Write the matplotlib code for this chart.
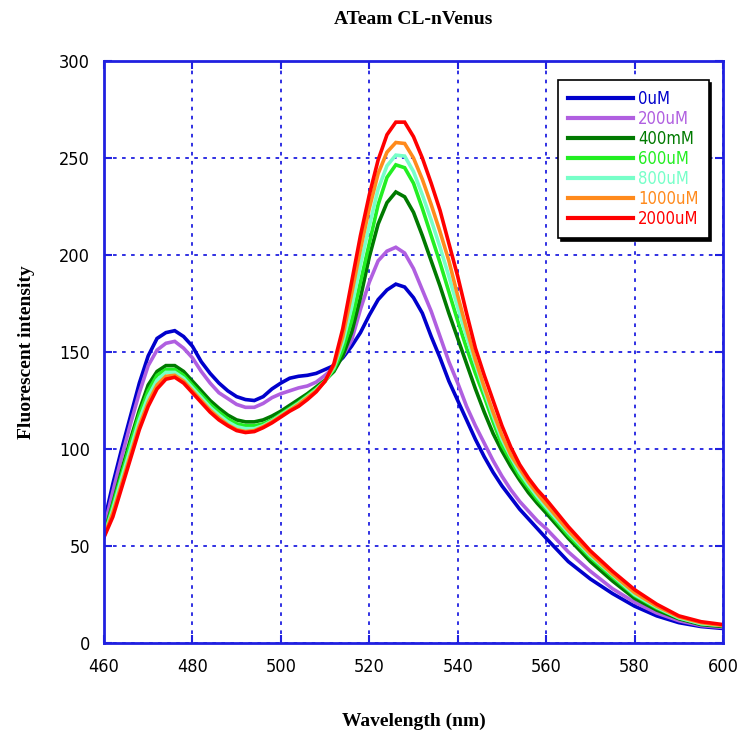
import matplotlib.pyplot as plt
import numpy as np

# wavelength grid (nm)
wl = [460, 462, 464, 466, 468, 470, 472, 474, 476, 478,
      480, 482, 484, 486, 488, 490, 492, 494, 496, 498,
      500, 502, 504, 506, 508, 510, 512, 514, 516, 518,
      520, 522, 524, 526, 528, 530, 532, 534, 536, 538,
      540, 542, 544, 546, 548, 550, 552, 554, 556, 558,
      560, 565, 570, 575, 580, 585, 590, 595, 600]

atp_0 = [62, 82, 100, 117, 134, 148, 157, 160, 161, 158,
         153, 145, 139, 134, 130, 127, 125.5, 125, 127, 131,
         134, 136.5, 137.5, 138, 139, 141, 143, 147, 153, 160,
         169, 177, 182, 185, 183.5, 178, 170, 158, 147, 135,
         125, 115, 105, 96, 88, 81, 75, 69, 64, 59,
         54, 42, 33, 25.5, 19, 14, 10.5, 8.5, 7.5]

atp_200 = [59, 78, 96, 113, 129, 143, 151, 154.5, 155.5, 152,
           147, 140, 134, 129, 126, 123, 121.5, 121.5, 123.5, 126.5,
           128.5, 130, 131.5, 132.5, 134.5, 138, 142, 148, 156, 172,
           186, 197, 202, 204, 201, 193, 182, 171, 158, 145,
           134, 122, 112, 103, 94, 86, 79, 73, 68, 63,
           59, 47, 37, 28, 21, 15.5, 11.5, 9, 8]

atp_400 = [56, 72, 89, 105, 120, 133, 140, 143, 143, 140,
           135, 130, 125, 121, 117.5, 115, 114, 114, 115, 117,
           119.5, 122.5, 125.5, 128.5, 132, 135.5, 140, 148, 160, 178,
           199, 216, 227, 232.5, 230, 222, 210, 197, 184, 170,
           157, 144, 131, 119, 108, 99, 91, 84, 77.5, 72,
           67, 54, 42, 32, 23, 17, 12.5, 9.5, 8.5]

atp_600 = [55, 71, 87, 103, 118, 130, 138, 141, 141, 138,
           133, 128, 123, 119, 115.5, 113, 112, 112, 113, 115,
           118, 121, 124, 127.5, 131, 135, 141, 151, 166, 186,
           206, 226, 240, 246.5, 245, 237, 224, 210, 196, 181,
           166, 152, 139, 127, 114, 102, 94, 86, 80, 74,
           69, 55.5, 44, 34, 24.5, 18, 13, 10, 9]

atp_800 = [55, 69, 85, 100, 115, 127, 135.5, 139.5, 139.5, 136.5,
           131.5, 126.5, 121.5, 117.5, 114, 111.5, 110.5, 110.5, 112, 114.5,
           117.5, 120.5, 123.5, 127, 130.5, 135, 142, 155, 173, 195,
           215, 234, 246, 251.5, 251, 243, 231, 218, 204, 189,
           173, 158, 144, 130, 117, 105, 96, 88, 81.5, 75.5,
           70, 57, 45, 35, 25, 18.5, 13, 10, 9]

atp_1000 = [55, 67, 82, 97, 112, 124, 133, 137.5, 138, 135,
            130, 125, 120, 116, 112.5, 110, 109, 109.5, 111.5, 114,
            117, 120, 123, 126.5, 130, 135, 143, 158, 180, 203,
            224, 242, 253, 258, 257.5, 250, 239, 226, 212, 197,
            179, 162, 146, 132, 119, 107, 97, 90, 83, 77,
            71.5, 58, 46, 35.5, 26, 19, 13.5, 10.5, 9]

atp_2000 = [54.5, 65, 80, 95, 110, 122, 131, 136, 137, 134,
            129, 124, 119, 115, 112, 109.5, 108.5, 109, 111, 113.5,
            116.5, 119.5, 122, 125.5, 129.5, 135, 144, 162, 186, 210,
            231, 249, 262, 268.5, 268.5, 261, 250, 237, 223, 206,
            189, 170, 152, 138, 125, 112, 101, 92, 85, 79,
            74, 60, 47.5, 37, 27.5, 20, 14, 11, 9.5]

series = [atp_0, atp_200, atp_400, atp_600, atp_800, atp_1000, atp_2000]
labels = ["0uM", "200uM", "400mM", "600uM", "800uM", "1000uM", "2000uM"]
colors = ["#0000CC", "#B05FE0", "#007A00", "#22EE22", "#77FFC8", "#FF8A1C", "#FF0000"]

axis_blue = "#2020E0"
serif = ["Liberation Serif", "DejaVu Serif"]

fig = plt.figure(figsize=(7.39, 7.38), dpi=100)
ax = fig.add_axes([0.1407, 0.1287, 0.8377, 0.7886])

for y, lab, c in zip(series, labels, colors):
    ax.plot(wl, y, color=c, lw=2.6, label=lab, solid_joinstyle="miter")

ax.set_xlim(460, 600)
ax.set_ylim(0, 300)
ax.set_xticks(np.arange(460, 601, 20))
ax.set_yticks(np.arange(0, 301, 50))

ax.grid(True, color=axis_blue, linestyle=(0, (2, 3)), linewidth=1.3)
for s in ax.spines.values():
    s.set_color(axis_blue)
    s.set_linewidth(2)
ax.tick_params(direction="in", length=6, width=1.5, color=axis_blue,
               top=True, right=True, labelsize=13)
ax.tick_params(axis="y", pad=10)
ax.tick_params(axis="x", pad=11)
for t in ax.get_xticklabels() + ax.get_yticklabels():
    t.set_family("DejaVu Sans")
    t.set_stretch("condensed")

ax.set_title("ATeam CL-nVenus", family=serif, fontweight="bold", fontsize=14, pad=27)
ax.set_xlabel("Wavelength (nm)", family=serif, fontweight="bold", fontsize=14, labelpad=26)
ax.set_ylabel("Fluorescent intensity", family=serif, fontweight="bold", fontsize=14, labelpad=17)

leg = ax.legend(loc="upper right", bbox_to_anchor=(0.99, 0.982), fancybox=False,
                shadow={"color": "black", "alpha": 1.0}, framealpha=1,
                edgecolor="black", labelcolor="linecolor", handlelength=3.9,
                handletextpad=0.3, labelspacing=0.12, borderpad=0.6,
                prop={"family": "DejaVu Sans", "stretch": "condensed", "size": 12})
leg.get_frame().set_linewidth(1.2)
for line in leg.get_lines():
    line.set_linewidth(3)

fig.savefig("out.png", dpi=100)
